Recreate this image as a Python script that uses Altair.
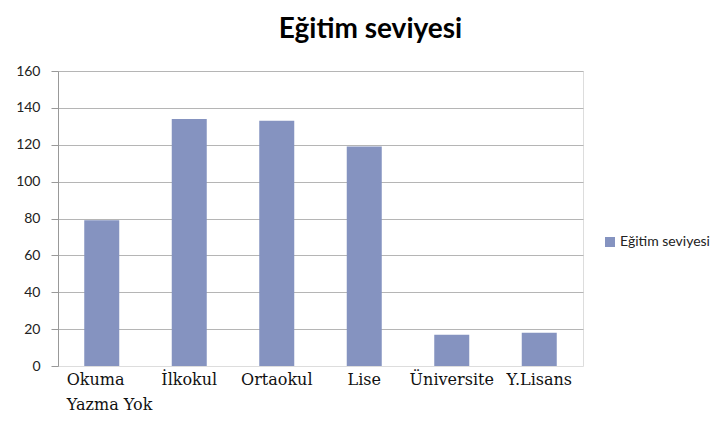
import altair as alt
import pandas as pd

categories = ["Okuma Yazma Yok", "İlkokul", "Ortaokul", "Lise", "Üniversite", "Y.Lisans"]
values = [79, 134, 133, 119, 17, 18]
series = "Eğitim seviyesi"

df = pd.DataFrame({"kategori": categories, "deger": values, "seri": [series] * len(categories)})

chart = alt.Chart(df).mark_bar(color="#8593c0").encode(
    x=alt.X("kategori:N", sort=categories, title=None,
            scale=alt.Scale(paddingInner=0.6, paddingOuter=0.3),
            axis=alt.Axis(labelAngle=0, domain=False, ticks=False,
                          labelFont="DejaVu Serif", labelFontSize=16,
                          labelColor="#111111", labelPadding=5,
                          labelLineHeight=25,
                          labelAlign={"condition": {"test": "datum.label == 'Okuma Yazma Yok'", "value": "left"}, "value": "center"},
                          labelOffset={"condition": {"test": "datum.label == 'Okuma Yazma Yok'", "value": -35}, "value": 0},
                          labelExpr="datum.label == 'Okuma Yazma Yok' ? ['Okuma', 'Yazma Yok'] : datum.label")),
    y=alt.Y("deger:Q", title=None,
            scale=alt.Scale(domain=[0, 160]),
            axis=alt.Axis(values=[0, 20, 40, 60, 80, 100, 120, 140, 160],
                          labelFont="Lato", labelFontSize=14, labelColor="#222222",
                          labelPadding=11, tickSize=7, tickColor="#999999",
                          domainColor="#999999", gridColor="#b5b5b5",
                          gridOpacity={"condition": {"test": "datum.value == 0", "value": 0}, "value": 1})),
    color=alt.Color("seri:N", scale=alt.Scale(range=["#8593c0"]),
                    legend=alt.Legend(title=None, orient="none", legendX=545, legendY=164,
                                      labelFont="Lato", labelFontSize=14, labelColor="#222222",
                                      labelOffset=3,
                                      symbolType="square", symbolSize=100, symbolStrokeWidth=0)),
).properties(
    width=525,
    height=295,
    title=alt.TitleParams(series, font="Lato", fontSize=28, fontWeight="bold",
                          color="#000000", anchor="middle", dx=50, offset=20),
    padding={"left": 50, "top": 63, "right": 134, "bottom": 50},
    autosize=alt.AutoSizeParams(type="none"),
).configure_view(stroke=None).configure(background="white")

chart.save("out.html", embed_options={"renderer": "svg", "actions": False})
